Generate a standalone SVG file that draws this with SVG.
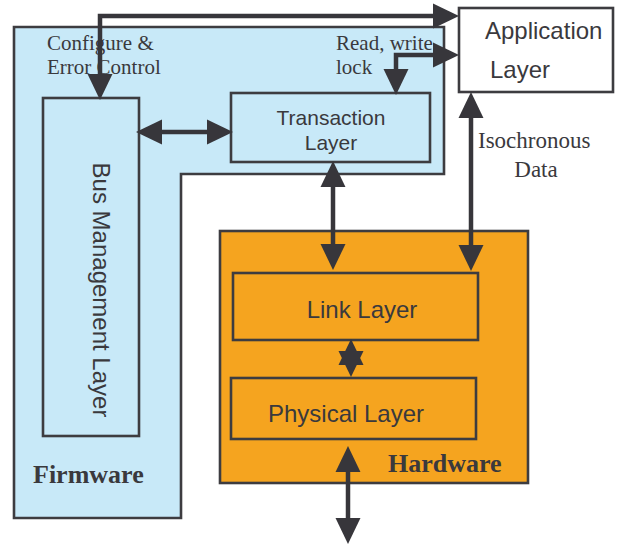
<svg xmlns="http://www.w3.org/2000/svg" width="618" height="544" viewBox="0 0 618 544">
<style>
.box{stroke:#3d3c40;stroke-width:2.6}
.fw{fill:#c8e9f8}
.hw{fill:#f5a41f}
.app{fill:#ffffff}
.sans{font-family:"Liberation Sans",Arial,sans-serif;fill:#3a393d}
.serif{font-family:"Liberation Serif","Times New Roman",serif;fill:#3a393d}
.bold{font-weight:bold}
.conn{fill:none;stroke:#37363b;stroke-width:4.5}
</style>
<defs>
<marker id="ah" markerUnits="userSpaceOnUse" markerWidth="26" markerHeight="26" refX="0" refY="12" orient="auto-start-reverse" viewBox="0 0 25 24">
<path d="M0,0 L25,12 L0,24 Z" fill="#37363b"/>
</marker>
</defs>
<g id="firmware">
<path class="box fw" d="M14,27 H444 V174 H181 V518 H14 Z"/>
<text class="serif bold" x="33" y="483" font-size="26">Firmware</text>
<text class="serif" x="47" y="50" font-size="21">Configure &amp;</text>
<text class="serif" x="47" y="74" font-size="21">Error Control</text>
<text class="serif" x="336" y="50" font-size="21">Read, write</text>
<text class="serif" x="336" y="74" font-size="21">lock</text>
</g>
<g id="hardware">
<rect class="box hw" x="220" y="231" width="308" height="252"/>
<text class="serif bold" x="388" y="472" font-size="26">Hardware</text>
</g>
<g id="bus-management">
<rect class="box fw" x="43" y="98" width="96" height="338"/>
<text class="sans" transform="translate(93,290) rotate(90)" text-anchor="middle" font-size="24">Bus Management Layer</text>
</g>
<g id="transaction">
<rect class="box fw" x="231" y="93" width="199" height="69"/>
<text class="sans" x="331" y="125" text-anchor="middle" font-size="21">Transaction</text>
<text class="sans" x="331" y="150" text-anchor="middle" font-size="21">Layer</text>
</g>
<g id="application">
<rect class="box app" x="459" y="8" width="154" height="84"/>
<text class="sans" x="485" y="39" font-size="24">Application</text>
<text class="sans" x="490" y="78" font-size="24">Layer</text>
</g>
<g id="link">
<rect class="box hw" x="233" y="273" width="245" height="67"/>
<text class="sans" x="362" y="318" text-anchor="middle" font-size="24">Link Layer</text>
</g>
<g id="physical">
<rect class="box hw" x="231" y="378" width="245" height="61"/>
<text class="sans" x="346" y="422" text-anchor="middle" font-size="24">Physical Layer</text>
</g>
<g id="iso-label">
<text class="serif" x="478" y="148" font-size="23">Isochronous</text>
<text class="serif" x="536" y="177" text-anchor="middle" font-size="23">Data</text>
</g>
<g id="connectors">
<path class="conn" d="M100,74 V16 H433" marker-start="url(#ah)" marker-end="url(#ah)"/>
<path class="conn" d="M433,55 H396 V69" marker-start="url(#ah)" marker-end="url(#ah)"/>
<path class="conn" d="M162,132 H207" marker-start="url(#ah)" marker-end="url(#ah)"/>
<path class="conn" d="M333,187 V244" marker-start="url(#ah)" marker-end="url(#ah)"/>
<path class="conn" d="M471,118 V245" marker-start="url(#ah)" marker-end="url(#ah)"/>
<path class="conn" d="M348,472 V518" marker-start="url(#ah)" marker-end="url(#ah)"/>
<polygon points="351,339 363.5,365 338.5,365" fill="#37363b"/>
<polygon points="351,377 363.5,351 338.5,351" fill="#37363b"/>
</g>
</svg>
